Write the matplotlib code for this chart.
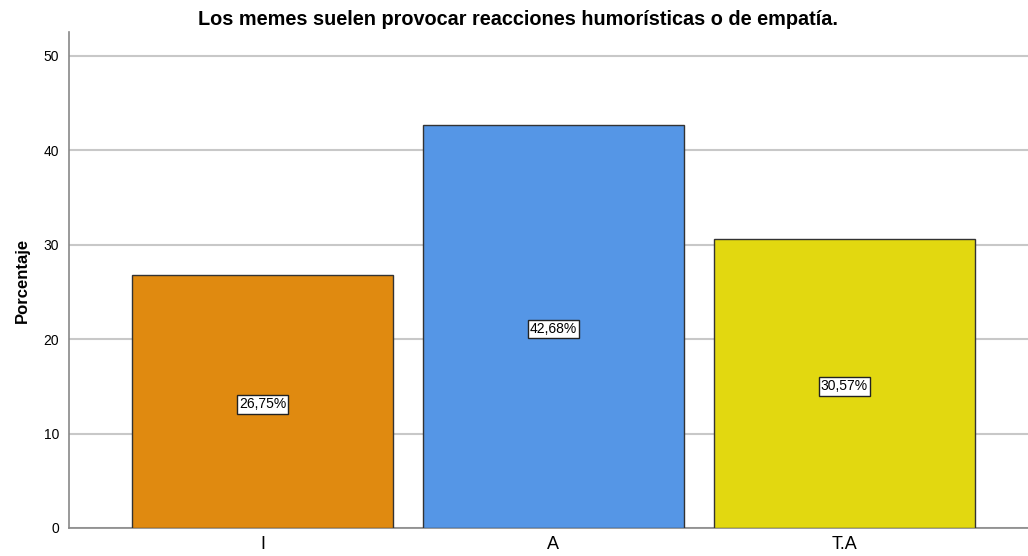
import matplotlib
matplotlib.use('Agg')
import matplotlib.pyplot as plt

# Data
categories = ['I', 'A', 'T.A']
percentages = [26.75, 42.68, 30.57]
labels = ['26,75%', '42,68%', '30,57%']
colours = ['#E08A10', '#5596E6', '#E2D810']

plt.rcParams['font.family'] = ['Liberation Sans', 'DejaVu Sans']

fig = plt.figure(figsize=(10.28, 5.56), dpi=100)
ax = fig.add_axes([0.0671, 0.0504, 0.9329, 0.892])

x = list(range(len(categories)))
ax.bar(x, percentages, width=0.897, color=colours, edgecolor='#333333', linewidth=1, zorder=3)

# Value labels in the middle of each bar
for xi, val, lab in zip(x, percentages, labels):
    ax.text(xi, val / 2 - 0.3, lab, ha='center', va='center', fontsize=10, zorder=4,
            bbox=dict(boxstyle='square,pad=0.15', facecolor='white', edgecolor='#222222', linewidth=1))

ax.set_xlim(-0.665, 2.631)
ax.set_ylim(0, 52.5)
ax.set_yticks([0, 10, 20, 30, 40, 50])
ax.set_xticks(x)
ax.set_xticklabels(categories, fontsize=13)
ax.tick_params(axis='x', length=0, pad=6)
ax.tick_params(axis='y', length=0, labelsize=10, pad=7)

ax.grid(axis='y', color='#C8C8C8', linewidth=1.5, zorder=0)
ax.set_axisbelow(True)
ax.spines['top'].set_visible(False)
ax.spines['right'].set_visible(False)
ax.spines['left'].set_color('#888888')
ax.spines['bottom'].set_color('#888888')
ax.spines['left'].set_linewidth(1.2)
ax.spines['bottom'].set_linewidth(1.2)

ax.set_ylabel('Porcentaje', fontsize=12, fontweight='bold', labelpad=10)
fig.suptitle('Los memes suelen provocar reacciones humorísticas o de empatía.',
             fontsize=14.3, fontweight='bold', y=0.982, x=0.504)

fig.savefig('out.png', dpi=100)
